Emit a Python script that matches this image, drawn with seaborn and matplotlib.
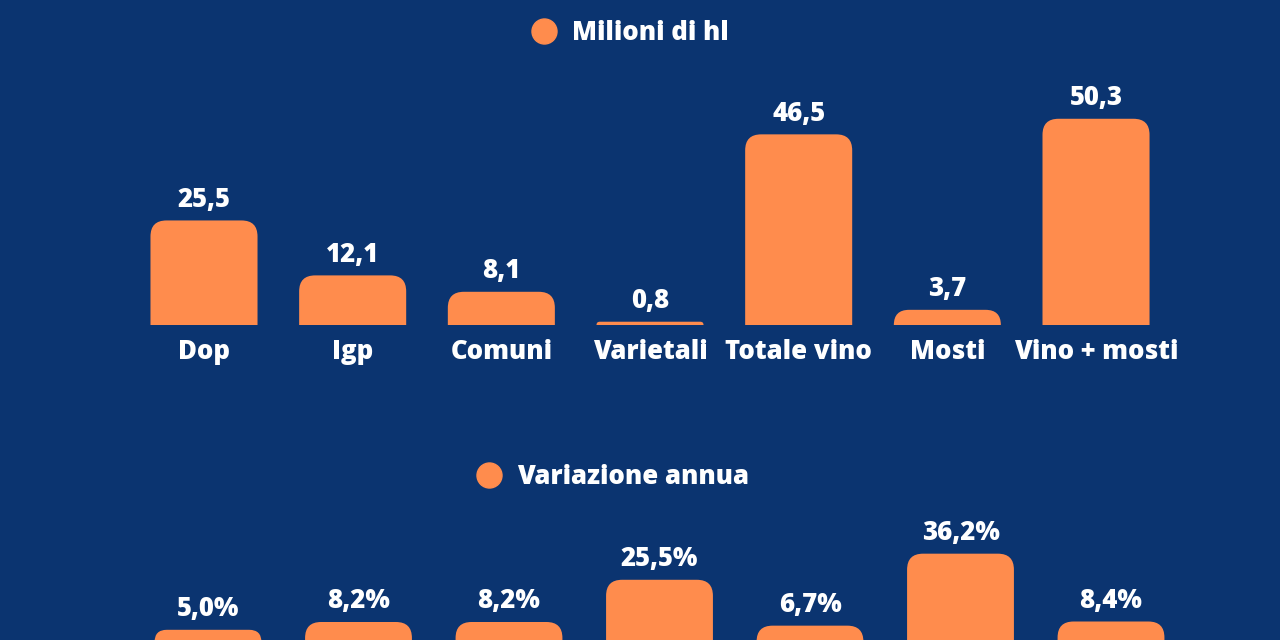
import matplotlib
matplotlib.use("Agg")
import matplotlib.pyplot as plt
from matplotlib.patches import FancyBboxPatch
from matplotlib.lines import Line2D
import seaborn as sns

categories = ["Dop", "Igp", "Comuni", "Varietali", "Totale vino", "Mosti", "Vino + mosti"]
volumes = [25.5, 12.1, 8.1, 0.8, 46.5, 3.7, 50.3]
variations = [5.0, 8.2, 8.2, 25.5, 6.7, 36.2, 8.4]
legend_top = "Milioni di hl"
legend_bottom = "Variazione annua"

BG = "#0B3470"
ORANGE = "#FF8C4D"
WHITE = "#FFFFFF"
FW = 800
FS = 18.5

sns.set_theme(style="white")
plt.rcParams["font.family"] = ["Open Sans", "DejaVu Sans"]
plt.rcParams["font.weight"] = FW

W, H = 1280, 640
fig = plt.figure(figsize=(12.8, 6.4), dpi=100, facecolor=BG)


def fmt(v, pct=False):
    s = f"{v:.1f}".replace(".", ",")
    return s + "%" if pct else s


def make_panel(rect_px, first_center_px, spacing_px, values, ylim_top, width, pct, show_labels):
    left, top, right, bottom = rect_px
    ax = fig.add_axes([left / W, 1 - bottom / H, (right - left) / W, (bottom - top) / H])
    ax.set_facecolor(BG)
    sns.barplot(x=categories, y=values, color=ORANGE, saturation=1, width=width, ax=ax)
    x0 = (left - first_center_px) / spacing_px
    x1 = (right - first_center_px) / spacing_px
    ax.set_xlim(x0, x1)
    ax.set_ylim(0, ylim_top)
    px_x = (right - left) / (x1 - x0)
    px_y = (bottom - top) / ylim_top
    for p, v in zip(list(ax.patches), values):
        x, w, h = p.get_x(), p.get_width(), p.get_height()
        p.set_visible(False)
        h_px = h * px_y
        r_px = min(16, max(h_px, 1.5))
        rx = r_px / px_x
        ry = r_px / px_y
        fb = FancyBboxPatch((x, -ry), w, h + ry,
                            boxstyle=f"round,pad=0,rounding_size={rx}",
                            mutation_aspect=ry / rx,
                            facecolor=ORANGE, edgecolor="none", zorder=3)
        ax.add_patch(fb)
        ax.annotate(fmt(v, pct), (x + w / 2, h), xytext=(0, 15), textcoords="offset points",
                    ha="center", va="center", color=WHITE, fontsize=FS, fontweight=FW,
                    annotation_clip=False)
    for s in ax.spines.values():
        s.set_visible(False)
    ax.set_yticks([])
    ax.set_ylabel("")
    ax.set_xlabel("")
    ax.tick_params(axis="x", length=0, pad=10, labelsize=FS, labelcolor=WHITE)
    for t in ax.get_xticklabels():
        t.set_fontweight(FW)
    if not show_labels:
        ax.set_xticklabels([])
    return ax


ax1 = make_panel((0, 60, W, 325), 204, 148.67, volumes, (325 - 60) / 4.1, 0.72, False, True)
# the lower panel's category labels sit below the visible area of the image
ax2 = make_panel((0, 505, W, 642), 208, 150.5, variations, (642 - 505) / 2.44, 0.71, True, False)


def legend(label, cx, cy):
    h = Line2D([], [], marker="o", linestyle="none", markersize=18,
               markerfacecolor=ORANGE, markeredgecolor=ORANGE)
    lg = fig.legend([h], [label], loc="center", bbox_to_anchor=(cx / W, 1 - cy / H),
                    frameon=False, handletextpad=0.5, handlelength=1.2,
                    prop={"weight": FW, "size": FS})
    for t in lg.get_texts():
        t.set_color(WHITE)


legend(legend_top, 629, 33)
legend(legend_bottom, 611, 477)

fig.savefig("out.png", dpi=100, facecolor=BG)
